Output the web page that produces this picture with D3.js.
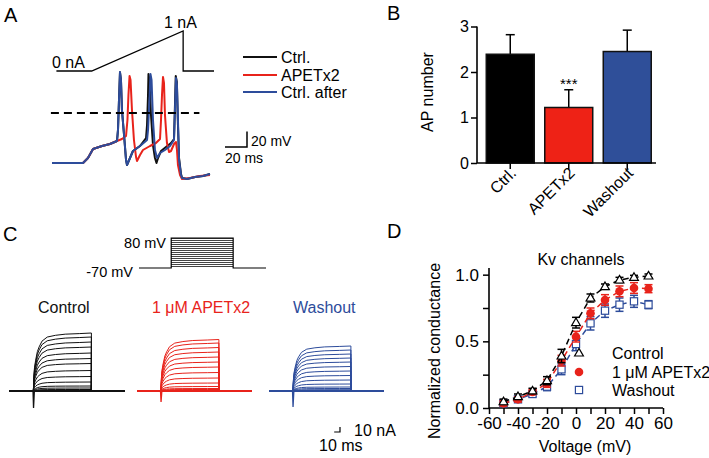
<!DOCTYPE html>
<html><head><meta charset="utf-8">
<script src="https://cdn.jsdelivr.net/npm/d3@7/dist/d3.min.js"></script>
<style>body{margin:0;background:#fff}svg{display:block}text{font-family:"Liberation Sans",Arial,sans-serif;fill:#000}</style>
</head><body>
<svg id="fig" width="709" height="458"></svg>
<script>
// ===== Panel A data =====
const legendA = ["Ctrl.", "APETx2", "Ctrl. after"];
const commandTime = [4, 36, 119, 119, 147];   // ms
const commandCurrent = [0, 0, 1, 0, 0];        // nA
const ctrlTrace = [[0,-65],[28.2,-65],[32.7,-58.5],[37.3,-46.8],[45.5,-42.9],[52.7,-40.3],[59.1,-36.4],[60,-22],[60.9,17],[61.8,53],[62.7,43],[63.6,4],[65.5,-28.6],[67.3,-61],[68.2,-67.6],[70.9,-58.5],[73.6,-49.4],[80,-42.9],[85.5,-32.5],[86.4,-15.6],[87.3,23.4],[87.7,50.7],[88.6,42.9],[90,-2.6],[91.8,-41.6],[93.6,-58.5],[95,-65],[96.4,-58.5],[99.1,-49.4],[103.6,-44.2],[108.2,-39],[110.9,-33.8],[111.8,10.4],[112.5,48.1],[113.5,40.3],[114.5,-15.6],[115.5,-58.5],[117.3,-79.3],[118.2,-84.5],[122.7,-85.8],[130,-83.2],[137.3,-81.9],[143.6,-79.3]];
const apetTrace = [[0,-65],[28.2,-65],[32.7,-58.5],[37.3,-46.8],[45.5,-42.9],[52.7,-40.3],[59.1,-36.4],[63.6,-33.8],[67.3,-29.9],[68.6,-9.1],[69.5,23.4],[70.5,48.1],[71.4,42.9],[72.7,3.9],[74.5,-35.1],[76.4,-57.2],[77.3,-62.4],[80,-54.6],[82.7,-48.1],[89.1,-42.9],[94.5,-39],[98.2,-33.8],[99.1,-9.1],[100,23.4],[100.9,46.8],[101.8,39],[102.7,-2.6],[104.5,-39],[106.4,-50.7],[108.2,-49.4],[110.9,-40.3],[112.7,-37.7],[113.6,-48.1],[114.5,-67.6],[116.4,-80.6],[118.2,-85.8],[125.5,-84.5],[134.5,-81.9],[143.6,-80.6]];
const afterTrace = [[0,-65],[28.2,-65],[32.7,-58.5],[37.3,-46.8],[45.5,-42.9],[52.7,-40.3],[59.1,-36.4],[60,-22],[60.9,17],[61.8,53.3],[62.7,42.9],[63.6,3.9],[65.5,-28.6],[67.3,-61.1],[68.2,-67.6],[70.9,-58.5],[73.6,-49.4],[80,-42.9],[86.4,-35.1],[87.3,-22.1],[88.6,16.9],[89.5,50.7],[90.5,42.9],[91.8,-9.1],[93.6,-48.1],[95.5,-58.5],[98.2,-52],[102.7,-48.1],[107.3,-42.9],[110.9,-35.1],[111.8,3.9],[112.7,45.5],[113.6,36.4],[114.5,-9.1],[115.5,-61.1],[117.3,-80.6],[118.2,-84.5],[122.7,-85.8],[130,-83.2],[137.3,-81.9],[143.6,-79.3]];

// ===== Panel B data =====
const groupsB = ["Ctrl.", "APETx2", "Washout"];
const apNumber = [2.39, 1.22, 2.45];
const apError = [0.43, 0.39, 0.47];
const ticksB = [0, 1, 2, 3];

// ===== Panel C data =====
const conditionsC = ["Control", "1 \u03bcM APETx2", "Washout"];
const protocolTime = [0, 52, 152, 205];          // ms
const stepVoltages = [-60,-50,-40,-30,-20,-10,0,10,20,30,40,50,60,70,80];
const ctrlAmps = [0.5,1.5,3,6,10,18,29,41,55,65,76,88,98,108,116];   // nA
const apetAmps = [0.5,1.5,3,5,9,16,26,37,48,58,68,78,87,96,103];
const washAmps = [0.5,1.5,2.5,5,8,14,22,31,40,49,58,66,74,82,90];
const activationTime = [0,0.5,1,2,4,7,10,15,24,38,55,80,100];     // ms after step onset
const activationFrac = [0,0.1,0.25,0.4,0.53,0.68,0.76,0.86,0.93,0.96,0.98,0.99,1.0];
const transientPeak = [-34, -22, -32];   // nA

// ===== Panel D data =====
const voltagesD = [-50,-40,-30,-20,-10,0,10,20,30,40,50];
const gControl = [0.047,0.085,0.128,0.205,0.39,0.64,0.825,0.91,0.96,0.98,0.99];
const gControlErr = [0.02,0.02,0.02,0.03,0.05,0.04,0.03,0.02,0.02,0.015,0.015];
const gApet = [0.035,0.065,0.12,0.185,0.355,0.535,0.71,0.81,0.875,0.9,0.895];
const gApetErr = [0.02,0.02,0.02,0.03,0.04,0.04,0.04,0.04,0.04,0.04,0.03];
const gWash = [0.035,0.065,0.105,0.16,0.29,0.48,0.635,0.73,0.775,0.8,0.775];
const gWashErr = [0.02,0.02,0.02,0.03,0.04,0.05,0.05,0.05,0.05,0.045,0.03];
const legendD = ["Control", "1 \u03bcM APETx2", "Washout"];

const BLACK = "#111", RED = "#e8231b", BLUE = "#2d4c9b";
const svg = d3.select("#fig");
function T(x, y, s, size, o = {}) {
  const t = svg.append("text").attr("x", x).attr("y", y).text(s).attr("font-size", size);
  if (o.anchor) t.attr("text-anchor", o.anchor);
  if (o.fill) t.style("fill", o.fill);
  if (o.transform) t.attr("transform", o.transform);
  return t;
}

// ---------------- Panel A ----------------
T(4, 22, "A", 20);
const xA = d3.scaleLinear().domain([0, 144]).range([52, 210.4]);
const yA = d3.scaleLinear().domain([-65, 0]).range([163, 113]);
const xCmd = d3.scaleLinear().domain([0, 147]).range([52, 214]);
const yCmd = d3.scaleLinear().domain([0, 1]).range([71, 31]);
svg.append("path").attr("d", d3.line().x((d, i) => xCmd(commandTime[i])).y((d, i) => yCmd(d))(commandCurrent))
  .attr("fill", "none").attr("stroke", "#000").attr("stroke-width", 1.3);
T(52, 68, "0 nA", 16);
T(164, 28, "1 nA", 16);
const lineA = d3.line().x(d => xA(d[0])).y(d => yA(d[1]));
[[ctrlTrace, BLACK], [apetTrace, RED], [afterTrace, BLUE]].forEach(([tr, c]) => {
  svg.append("path").attr("d", lineA(tr)).attr("fill", "none").attr("stroke", c)
    .attr("stroke-width", 2).attr("stroke-linejoin", "round");
});
svg.append("line").attr("x1", xA(-1)).attr("x2", xA(134)).attr("y1", yA(0)).attr("y2", yA(0))
  .attr("stroke", "#000").attr("stroke-width", 2).attr("stroke-dasharray", "8,5");
// scale bar
{
  const cx = 247, cy = 147;
  const h = yA(-65) - yA(-45), w = xA(20) - xA(0);
  svg.append("path").attr("d", `M${cx - w},${cy}H${cx}V${cy - h}`).attr("fill", "none").attr("stroke", "#000").attr("stroke-width", 1.5);
  T(251, 146, "20 mV", 14);
  T(225, 163, "20 ms", 14);
}
// legend
legendA.forEach((s, i) => {
  const y = [57, 75, 92][i];
  svg.append("line").attr("x1", 243).attr("x2", 277).attr("y1", y).attr("y2", y)
    .attr("stroke", [BLACK, RED, BLUE][i]).attr("stroke-width", 2);
  T(281, y + 6, s, 16);
});

// ---------------- Panel B ----------------
T(387, 20, "B", 20);
const xB = d3.scaleBand().domain(groupsB).range([481, 656.5]).paddingInner(0.18).paddingOuter(0.09);
const yB = d3.scaleLinear().domain([0, 3]).range([163, 26.5]);
const barFill = ["#000", "#ee2216", "#2f4f99"];
groupsB.forEach((g, i) => {
  const cx = xB(g) + xB.bandwidth() / 2;
  svg.append("line").attr("x1", cx).attr("x2", cx).attr("y1", yB(apNumber[i])).attr("y2", yB(apNumber[i] + apError[i]))
    .attr("stroke", "#000").attr("stroke-width", 1.5);
  svg.append("line").attr("x1", cx - 4.5).attr("x2", cx + 4.5).attr("y1", yB(apNumber[i] + apError[i])).attr("y2", yB(apNumber[i] + apError[i]))
    .attr("stroke", "#000").attr("stroke-width", 1.5);
  svg.append("rect").attr("x", xB(g)).attr("y", yB(apNumber[i])).attr("width", xB.bandwidth())
    .attr("height", yB(0) - yB(apNumber[i])).attr("fill", barFill[i]).attr("stroke", "#111").attr("stroke-width", 1.5);
});
T(xB("APETx2") + xB.bandwidth() / 2, 89, "***", 15, { anchor: "middle" });
const axB = svg.append("g").attr("transform", "translate(477,0)")
  .call(d3.axisLeft(yB).tickValues(ticksB).tickSize(6).tickPadding(2).tickFormat(d3.format("d")));
axB.select(".domain").attr("stroke-width", 1.6).attr("d", `M0,${yB(3)}V${yB(0)}`);
axB.selectAll(".tick line").attr("stroke-width", 1.5);
axB.selectAll("text").attr("font-size", 16).style("font-family", '"Liberation Sans",Arial,sans-serif');
svg.append("line").attr("x1", 477).attr("x2", 656).attr("y1", 163).attr("y2", 163).attr("stroke", "#000").attr("stroke-width", 1.6);
groupsB.forEach(g => {
  const cx = xB(g) + xB.bandwidth() / 2;
  svg.append("line").attr("x1", cx).attr("x2", cx).attr("y1", 163).attr("y2", 169).attr("stroke", "#000").attr("stroke-width", 1.5);
  T(0, 0, g, 16, { anchor: "end", transform: `translate(${cx + 7},${174}) rotate(-45)` });
});
T(0, 0, "AP number", 16, { anchor: "middle", transform: "translate(433,92) rotate(-90)" });

// ---------------- Panel C ----------------
T(3, 241, "C", 20);
const xP = d3.scaleLinear().domain([0, 205]).range([139, 266]);
const yP = d3.scaleLinear().domain([-70, 80]).range([268, 238]);
stepVoltages.forEach(v => {
  svg.append("line").attr("x1", xP(protocolTime[1])).attr("x2", xP(protocolTime[2]))
    .attr("y1", Math.round(yP(v)) + 0.5).attr("y2", Math.round(yP(v)) + 0.5)
    .attr("stroke", "#444").attr("stroke-width", 1).attr("shape-rendering", "crispEdges");
});
svg.append("path").attr("d", `M${xP(protocolTime[0])},${yP(-70)}H${xP(protocolTime[1])}V${yP(80)}H${xP(protocolTime[2])}V${yP(-70)}H${xP(protocolTime[3])}`)
  .attr("fill", "none").attr("stroke", "#000").attr("stroke-width", 1.2);
T(166, 248, "80 mV", 14.5, { anchor: "end" });
T(133, 277, "-70 mV", 14.5, { anchor: "end" });

const yC = d3.scaleLinear().domain([0, 100]).range([391, 341]);
const cOffsets = [9.5, 137, 269];
const cColors = [BLACK, RED, BLUE];
const ampsAll = [ctrlAmps, apetAmps, washAmps];
const onset = 41, offset = 141, endT = 198;
const labelX = [38, 152, 293];
conditionsC.forEach((name, k) => {
  const xC = d3.scaleLinear().domain([0, endT]).range([cOffsets[k], cOffsets[k] + 115]);
  const line = d3.line().x(d => xC(d[0])).y(d => yC(d[1]));
  const g = svg.append("g");
  ampsAll[k].forEach(a => {
    const pts = [[0, 0], [onset, 0]];
    activationTime.forEach((t, j) => pts.push([onset + t, a * activationFrac[j]]));
    pts.push([offset, a], [offset, 0], [endT, 0]);
    g.append("path").attr("d", line(pts)).attr("fill", "none").attr("stroke", cColors[k]).attr("stroke-width", 1);
  });
  g.append("path").attr("d", line([[0, 0], [endT, 0]])).attr("stroke", cColors[k]).attr("stroke-width", 2.2);
  g.append("path").attr("d", line([[onset - 0.5, 0], [onset + 0.4, transientPeak[k]], [onset + 1.8, 0]]))
    .attr("fill", "none").attr("stroke", cColors[k]).attr("stroke-width", 1.3);
  T(labelX[k], 313, name, 16, { fill: cColors[k] });
});
{
  const cx = 340, cy = 432;
  const w = 10 * 115 / endT, h = yC(0) - yC(10);
  svg.append("path").attr("d", `M${cx - w},${cy}H${cx}V${cy - h}`).attr("fill", "none").attr("stroke", "#000").attr("stroke-width", 1.2);
  T(354, 436, "10 nA", 16);
  T(319, 451, "10 ms", 16);
}

// ---------------- Panel D ----------------
T(387, 238, "D", 20);
const xD = d3.scaleLinear().domain([-60, 60]).range([489, 663]);
const yD = d3.scaleLinear().domain([0, 1.05]).range([408, 268]);
T(581, 265, "Kv channels", 16, { anchor: "middle" });
const axDy = svg.append("g").attr("transform", "translate(489,0)")
  .call(d3.axisLeft(yD).tickValues([0, 0.25, 0.5, 0.75, 1]).tickSize(6).tickPadding(4)
    .tickFormat(d => (d === 0 || d === 0.5 || d === 1) ? d3.format(".1f")(d) : ""));
const axDx = svg.append("g").attr("transform", "translate(0,408)")
  .call(d3.axisBottom(xD).tickValues(d3.range(-60, 61, 10)).tickSize(6).tickPadding(3)
    .tickFormat(d => d % 20 === 0 ? d : ""));
[axDy, axDx].forEach(a => {
  a.select(".domain").attr("stroke-width", 1.6);
  a.selectAll(".tick line").attr("stroke-width", 1.5);
  a.selectAll("text").attr("font-size", 17).style("font-family", '"Liberation Sans",Arial,sans-serif');
});
axDy.select(".domain").attr("d", "M0,268V408");
axDx.select(".domain").attr("d", "M489,0H663");
T(0, 0, "Normalized conductance", 16, { anchor: "middle", transform: "translate(440,351) rotate(-90)" });
T(585, 452, "Voltage (mV)", 16, { anchor: "middle" });

const seriesD = [
  { g: gWash, e: gWashErr, c: BLUE, m: "square" },
  { g: gApet, e: gApetErr, c: RED, m: "circle" },
  { g: gControl, e: gControlErr, c: "#000", m: "triangle" }
];
function marker(sel, m, c, x, y) {
  if (m === "circle") sel.append("circle").attr("cx", x).attr("cy", y).attr("r", 4.3).attr("fill", c);
  else if (m === "square") sel.append("rect").attr("x", x - 3.6).attr("y", y - 3.6).attr("width", 7.2).attr("height", 7.2)
    .attr("fill", "#fff").attr("stroke", c).attr("stroke-width", 1.2);
  else sel.append("path").attr("d", `M${x},${y - 4.6}L${x + 4.4},${y + 3}L${x - 4.4},${y + 3}Z`)
    .attr("fill", "#fff").attr("stroke", c).attr("stroke-width", 1.2);
}
seriesD.forEach(s => {
  const g = svg.append("g");
  g.append("path").attr("d", d3.line().x((d, i) => xD(voltagesD[i])).y(d => yD(d))(s.g))
    .attr("fill", "none").attr("stroke", s.c).attr("stroke-width", 1.5).attr("stroke-dasharray", "6,4");
  s.g.forEach((v, i) => {
    const x = xD(voltagesD[i]);
    [v + s.e[i], v - s.e[i]].forEach(ev => {
      g.append("line").attr("x1", x).attr("x2", x).attr("y1", yD(v)).attr("y2", yD(ev)).attr("stroke", s.c).attr("stroke-width", 1.5);
      g.append("line").attr("x1", x - 4).attr("x2", x + 4).attr("y1", yD(ev)).attr("y2", yD(ev)).attr("stroke", s.c).attr("stroke-width", 1.5);
    });
    marker(g, s.m, s.c, x, yD(v));
  });
});
legendD.forEach((s, i) => {
  const y = [353, 372, 390][i];
  marker(svg, ["triangle", "circle", "square"][i], ["#000", RED, BLUE][i], 579, y);
  T(612, y + 6, s, 16);
});
</script>
</body></html>
